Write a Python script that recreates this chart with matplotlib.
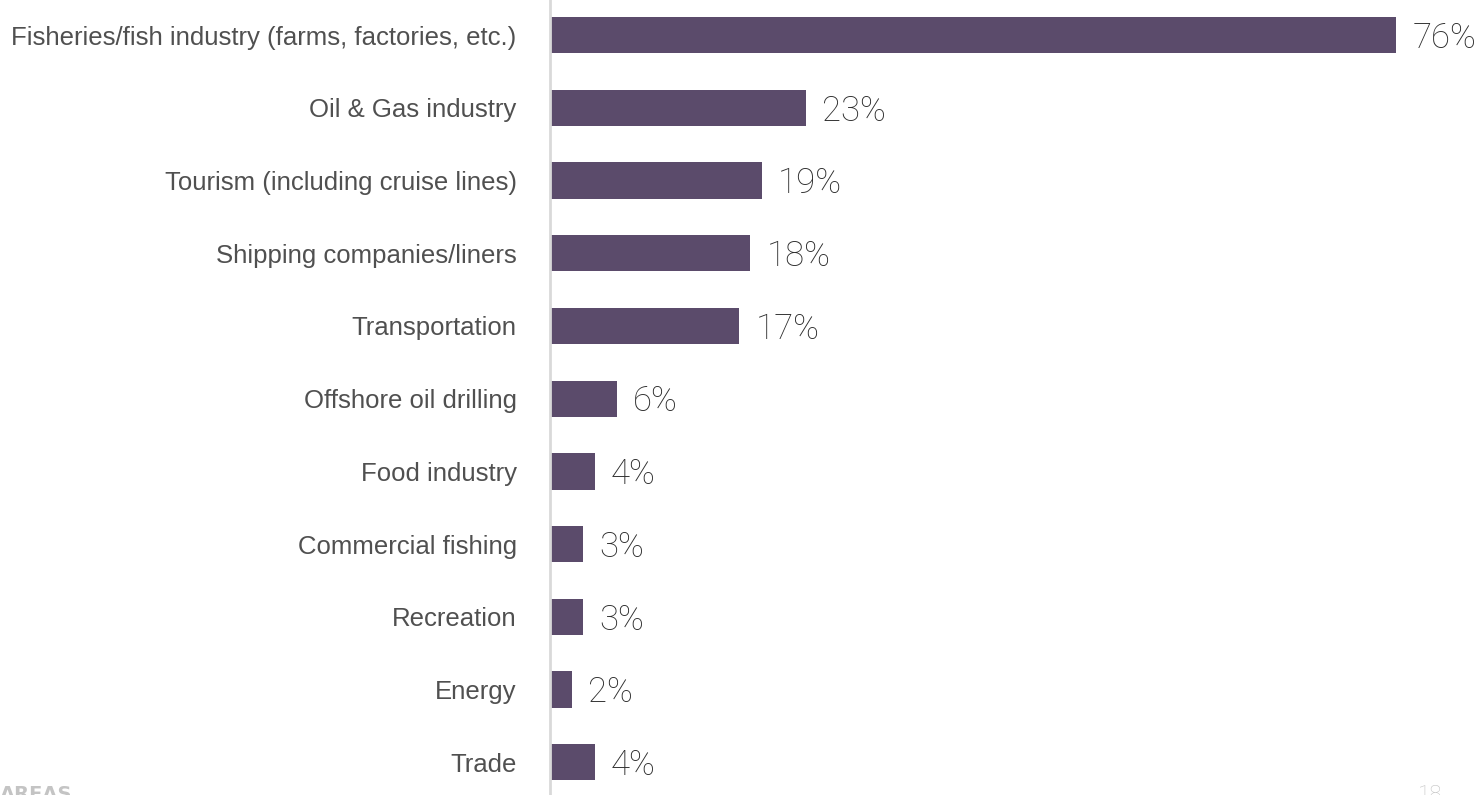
import matplotlib.pyplot as plt

categories = ['Fisheries/fish industry (farms, factories, etc.)', 'Oil & Gas industry',
              'Tourism (including cruise lines)', 'Shipping companies/liners',
              'Transportation', 'Offshore oil drilling', 'Food industry',
              'Commercial fishing', 'Recreation', 'Energy', 'Trade']
values = [76, 23, 19, 18, 17, 6, 4, 3, 3, 2, 4]

bar_color = '#5b4b6b'
label_color = '#505050'

fig = plt.figure(figsize=(14.81, 7.95), dpi=100)
ax = fig.add_axes([550 / 1481, -0.0045, 931 / 1481, 1.006])

y = range(len(categories))
ax.barh(y, values, height=0.5, color=bar_color)
ax.set_ylim(len(categories) - 0.5, -0.5)
ax.set_xlim(0, 83.6)

for i, v in enumerate(values):
    ax.annotate(f'{v}%', (v, i), xytext=(16, -3), textcoords='offset pixels',
                va='center', ha='left', fontsize=25, color='#2e2e2e',
                family='Roboto', weight='light')

ax.set_yticks(list(y))
ax.set_yticklabels(categories, fontsize=18.5, color=label_color, family='Liberation Sans')
ax.tick_params(axis='y', length=0, pad=24)
ax.set_xticks([])

for s in ['top', 'right', 'bottom']:
    ax.spines[s].set_visible(False)
ax.spines['left'].set_color('#d9d9d9')
ax.spines['left'].set_linewidth(2)

# footer remnants at the lower edge
fig.text(0.0, -0.006, 'AREAS', fontsize=14, weight='bold', color='#c4c4c4',
         family='DejaVu Sans', va='baseline', ha='left')
fig.text(0.9575, -0.008, '18', fontsize=16, color='#c4c4c4', family='Roboto',
         weight='light', va='baseline', ha='left')

fig.savefig('out.png', dpi=100)
